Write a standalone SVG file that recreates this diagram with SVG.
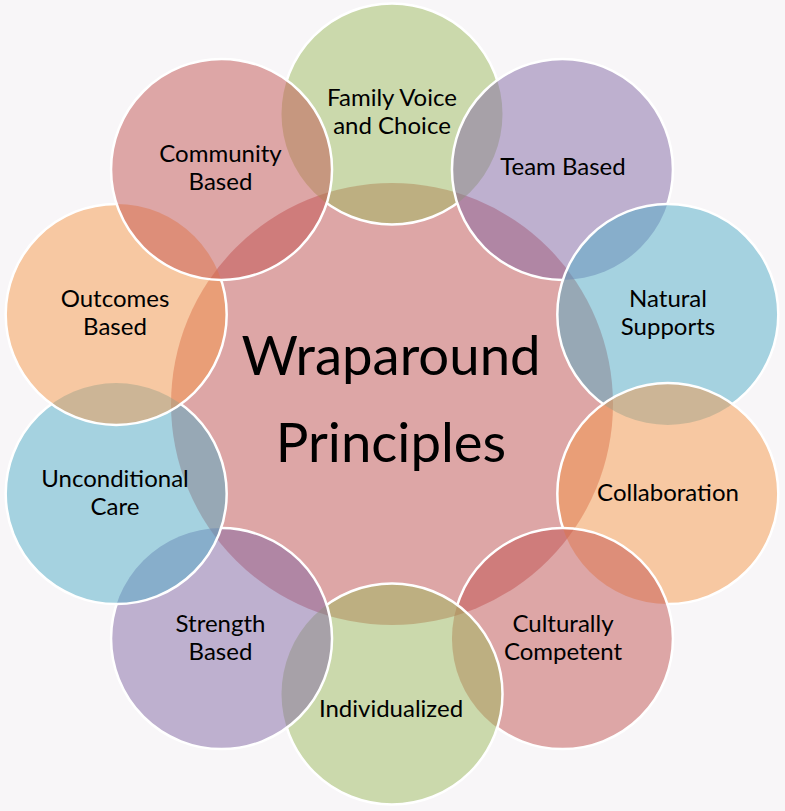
<svg xmlns="http://www.w3.org/2000/svg" width="785" height="811" viewBox="0 0 785 811">
<style>
.f{fill-opacity:0.48;stroke:none}
.s{fill:none;stroke:#ffffff;stroke-width:2.5}
.g{fill:#9BBB59}.p{fill:#8064A2}.a{fill:#4BACC6}.o{fill:#F79646}.r{fill:#C0504D}
text{font-family:Lato,"Open Sans","Liberation Sans",sans-serif;font-size:24px;fill:#000;text-anchor:middle}
.big{font-size:54.5px}
</style>
<defs>
<mask id="m0" maskUnits="userSpaceOnUse" x="0" y="0" width="785" height="811"><rect width="785" height="811" fill="#fff"/><circle cx="562.46" cy="169.39" r="110.5" fill="#000"/><circle cx="221.54" cy="169.39" r="110.5" fill="#000"/></mask>
<mask id="m1" maskUnits="userSpaceOnUse" x="0" y="0" width="785" height="811"><rect width="785" height="811" fill="#fff"/><circle cx="667.81" cy="314.39" r="110.5" fill="#000"/></mask>
<mask id="m2" maskUnits="userSpaceOnUse" x="0" y="0" width="785" height="811"><rect width="785" height="811" fill="#fff"/><circle cx="667.81" cy="493.61" r="110.5" fill="#000"/></mask>
<mask id="m3" maskUnits="userSpaceOnUse" x="0" y="0" width="785" height="811"><rect width="785" height="811" fill="#fff"/><circle cx="562.46" cy="638.61" r="110.5" fill="#000"/></mask>
<mask id="m4" maskUnits="userSpaceOnUse" x="0" y="0" width="785" height="811"><rect width="785" height="811" fill="#fff"/><circle cx="392" cy="694" r="110.5" fill="#000"/></mask>
<mask id="m5" maskUnits="userSpaceOnUse" x="0" y="0" width="785" height="811"><rect width="785" height="811" fill="#fff"/><circle cx="221.54" cy="638.61" r="110.5" fill="#000"/></mask>
<mask id="m6" maskUnits="userSpaceOnUse" x="0" y="0" width="785" height="811"><rect width="785" height="811" fill="#fff"/><circle cx="116.19" cy="493.61" r="110.5" fill="#000"/></mask>
<mask id="m7" maskUnits="userSpaceOnUse" x="0" y="0" width="785" height="811"><rect width="785" height="811" fill="#fff"/><circle cx="116.19" cy="314.39" r="110.5" fill="#000"/></mask>
<mask id="m8" maskUnits="userSpaceOnUse" x="0" y="0" width="785" height="811"><rect width="785" height="811" fill="#fff"/><circle cx="221.54" cy="169.39" r="110.5" fill="#000"/></mask>
</defs>
<rect width="785" height="811" fill="#f8f6f8"/>
<g id="center">
<circle class="f r" cx="392" cy="404" r="221"/>
<text class="big" x="391" y="375">Wraparound</text>
<text class="big" x="391" y="462">Principles</text>
</g>
<g id="family-voice">
<circle class="f g" cx="392" cy="114" r="110.5"/>
<circle class="s" cx="392" cy="114" r="110.5" mask="url(#m0)"/>
<text x="392" y="106">Family Voice</text>
<text x="392" y="134">and Choice</text>
</g>
<g id="team-based">
<circle class="f p" cx="562.46" cy="169.39" r="110.5"/>
<circle class="s" cx="562.46" cy="169.39" r="110.5" mask="url(#m1)"/>
<text x="563" y="175">Team Based</text>
</g>
<g id="natural-supports">
<circle class="f a" cx="667.81" cy="314.39" r="110.5"/>
<circle class="s" cx="667.81" cy="314.39" r="110.5" mask="url(#m2)"/>
<text x="668" y="307">Natural</text>
<text x="668" y="335">Supports</text>
</g>
<g id="collaboration">
<circle class="f o" cx="667.81" cy="493.61" r="110.5"/>
<circle class="s" cx="667.81" cy="493.61" r="110.5" mask="url(#m3)"/>
<text x="668" y="501">Collaboration</text>
</g>
<g id="culturally-competent">
<circle class="f r" cx="562.46" cy="638.61" r="110.5"/>
<circle class="s" cx="562.46" cy="638.61" r="110.5" mask="url(#m4)"/>
<text x="563" y="632">Culturally</text>
<text x="563" y="660">Competent</text>
</g>
<g id="individualized">
<circle class="f g" cx="392" cy="694" r="110.5"/>
<circle class="s" cx="392" cy="694" r="110.5" mask="url(#m5)"/>
<text x="391" y="717">Individualized</text>
</g>
<g id="strength-based">
<circle class="f p" cx="221.54" cy="638.61" r="110.5"/>
<circle class="s" cx="221.54" cy="638.61" r="110.5" mask="url(#m6)"/>
<text x="220.5" y="632">Strength</text>
<text x="220.5" y="660">Based</text>
</g>
<g id="unconditional-care">
<circle class="f a" cx="116.19" cy="493.61" r="110.5"/>
<circle class="s" cx="116.19" cy="493.61" r="110.5" mask="url(#m7)"/>
<text x="115" y="487">Unconditional</text>
<text x="115" y="515">Care</text>
</g>
<g id="outcomes-based">
<circle class="f o" cx="116.19" cy="314.39" r="110.5"/>
<circle class="s" cx="116.19" cy="314.39" r="110.5" mask="url(#m8)"/>
<text x="115" y="307">Outcomes</text>
<text x="115" y="335">Based</text>
</g>
<g id="community-based">
<circle class="f r" cx="221.54" cy="169.39" r="110.5"/>
<circle class="s" cx="221.54" cy="169.39" r="110.5"/>
<text x="220.5" y="162">Community</text>
<text x="220.5" y="190">Based</text>
</g>
<g id="connectors"/>
</svg>
